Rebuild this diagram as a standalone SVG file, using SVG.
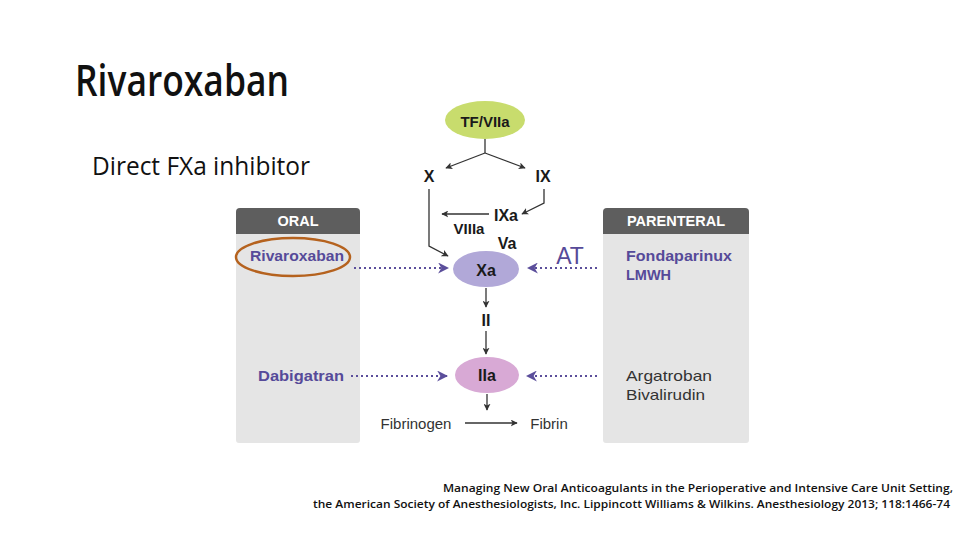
<svg xmlns="http://www.w3.org/2000/svg" width="960" height="540" viewBox="0 0 960 540">
<style>
.ttl{font-family:"Open Sans","Liberation Sans",sans-serif;fill:#111}
.lbl{font-family:"Liberation Sans","Noto Sans",sans-serif;font-weight:bold;fill:#1a1a1a;font-size:15px;text-anchor:middle;dominant-baseline:central}
.big{font-size:16px}
.drug{font-family:"Liberation Sans","Noto Sans",sans-serif;font-weight:bold;fill:#564a99;font-size:14.5px;dominant-baseline:central}
.at{font-size:23px;text-anchor:middle;font-weight:normal}
.drug2{font-family:"Liberation Sans","Noto Sans",sans-serif;fill:#333;font-size:15px;dominant-baseline:central}
.hdr{font-family:"Liberation Sans","Noto Sans",sans-serif;font-weight:bold;fill:#fff;font-size:14.5px;text-anchor:middle;dominant-baseline:central}
.cite{font-family:"Open Sans","Liberation Sans",sans-serif;font-size:11px;font-weight:600;fill:#111;text-anchor:end}
.blk{fill:none;stroke:#333;stroke-width:1.3}
.dot{fill:none;stroke:#5b4e9b;stroke-width:2.2;stroke-dasharray:2 3}
</style>
<defs>
<marker id="ah" viewBox="0 0 10 10" refX="9" refY="5" markerWidth="7" markerHeight="7" markerUnits="userSpaceOnUse" orient="auto">
<path d="M0,0 L10,5 L0,10 L2.5,5 z" fill="#333"/>
</marker>
<marker id="ap" viewBox="0 0 10 10" refX="9" refY="5" markerWidth="11" markerHeight="11" markerUnits="userSpaceOnUse" orient="auto">
<path d="M0,0 L10,5 L0,10 L3,5 z" fill="#5b4e9b"/>
</marker>
</defs>
<rect width="960" height="540" fill="#fff"/>

<g id="title">
<text class="ttl" x="75" y="96" style="font-size:44px;font-weight:600" textLength="214" lengthAdjust="spacingAndGlyphs">Rivaroxaban</text>
<text class="ttl" x="92" y="175" style="font-size:25px" textLength="218" lengthAdjust="spacingAndGlyphs">Direct FXa inhibitor</text>
</g>

<g id="panel-oral">
<path d="M236,443 V212 Q236,208 240,208 H356 Q360,208 360,212 V440 Q360,443 357,443 H239 Q236,443 236,440 z" fill="#e5e5e5"/>
<path d="M236,234 V212 Q236,208 240,208 H356 Q360,208 360,212 V234 z" fill="#5e5e5e"/>
<text class="hdr" x="298" y="221">ORAL</text>
</g>
<g id="panel-parenteral">
<path d="M603,443 V212 Q603,208 607,208 H745 Q749,208 749,212 V440 Q749,443 746,443 H606 Q603,443 603,440 z" fill="#e5e5e5"/>
<path d="M603,234 V212 Q603,208 607,208 H745 Q749,208 749,212 V234 z" fill="#5e5e5e"/>
<text class="hdr" x="676" y="221">PARENTERAL</text>
</g>

<g id="rivaroxaban">
<text class="drug" x="250" y="256" textLength="94" lengthAdjust="spacingAndGlyphs">Rivaroxaban</text>
<ellipse cx="293" cy="257" rx="57" ry="19" fill="none" stroke="#b5621e" stroke-width="2.5"/>
</g>
<g id="dabigatran"><text class="drug" x="258" y="376" textLength="86" lengthAdjust="spacingAndGlyphs">Dabigatran</text></g>
<g id="fondaparinux">
<text class="drug" x="626" y="256" textLength="106" lengthAdjust="spacingAndGlyphs">Fondaparinux</text>
<text class="drug" x="626" y="275">LMWH</text>
</g>
<g id="argatroban">
<text class="drug2" x="626" y="375" textLength="86" lengthAdjust="spacingAndGlyphs">Argatroban</text>
<text class="drug2" x="626" y="394" textLength="79" lengthAdjust="spacingAndGlyphs">Bivalirudin</text>
</g>
<g id="at"><text class="drug at" x="570" y="256">AT</text></g>

<g id="tf-viia">
<ellipse cx="485" cy="120" rx="40" ry="19" fill="#c8dc6d"/>
<text class="lbl" x="485" y="121">TF/VIIa</text>
</g>
<g id="x"><text class="lbl big" x="429" y="176">X</text></g>
<g id="ix"><text class="lbl big" x="543" y="176">IX</text></g>
<g id="ixa"><text class="lbl big" x="506" y="215">IXa</text></g>
<g id="viiia"><text class="lbl" x="469" y="228">VIIIa</text></g>
<g id="va"><text class="lbl big" x="507" y="243">Va</text></g>
<g id="xa">
<ellipse cx="486" cy="269" rx="33" ry="18" fill="#b1a8d8"/>
<text class="lbl big" x="486" y="270">Xa</text>
</g>
<g id="ii"><text class="lbl big" x="486" y="320">II</text></g>
<g id="iia">
<ellipse cx="487" cy="375" rx="32" ry="18" fill="#d8a9d5"/>
<text class="lbl big" x="487" y="375">IIa</text>
</g>
<g id="fibrinogen"><text class="drug2" x="416" y="423" text-anchor="middle">Fibrinogen</text></g>
<g id="fibrin"><text class="drug2" x="549" y="423" text-anchor="middle">Fibrin</text></g>

<g id="connectors">
<path class="blk" d="M485,139 V153"/>
<path class="blk" d="M485,153 L446,168" marker-end="url(#ah)"/>
<path class="blk" d="M485,153 L525,168" marker-end="url(#ah)"/>
<path class="blk" d="M429,189 V246 L448,256" marker-end="url(#ah)"/>
<path class="blk" d="M544,189 V203 L522,214" marker-end="url(#ah)"/>
<path class="blk" d="M489,214 H442" marker-end="url(#ah)"/>
<path class="blk" d="M486,288 V307" marker-end="url(#ah)"/>
<path class="blk" d="M486,331 V354" marker-end="url(#ah)"/>
<path class="blk" d="M487,394 V410" marker-end="url(#ah)"/>
<path class="blk" d="M465,423 H517" marker-end="url(#ah)"/>
<path class="dot" d="M354,268 H448" marker-end="url(#ap)"/>
<path class="dot" d="M597,268 H528" marker-end="url(#ap)"/>
<path class="dot" d="M351,376 H447" marker-end="url(#ap)"/>
<path class="dot" d="M597,376 H527" marker-end="url(#ap)"/>
</g>

<g id="citation">
<text class="cite" x="953" y="492" textLength="510" lengthAdjust="spacingAndGlyphs">Managing New Oral Anticoagulants in the Perioperative and Intensive Care Unit Setting,</text>
<text class="cite" x="950" y="508" textLength="637" lengthAdjust="spacingAndGlyphs">the American Society of Anesthesiologists, Inc. Lippincott Williams &amp; Wilkins. Anesthesiology 2013; 118:1466-74</text>
</g>
</svg>
